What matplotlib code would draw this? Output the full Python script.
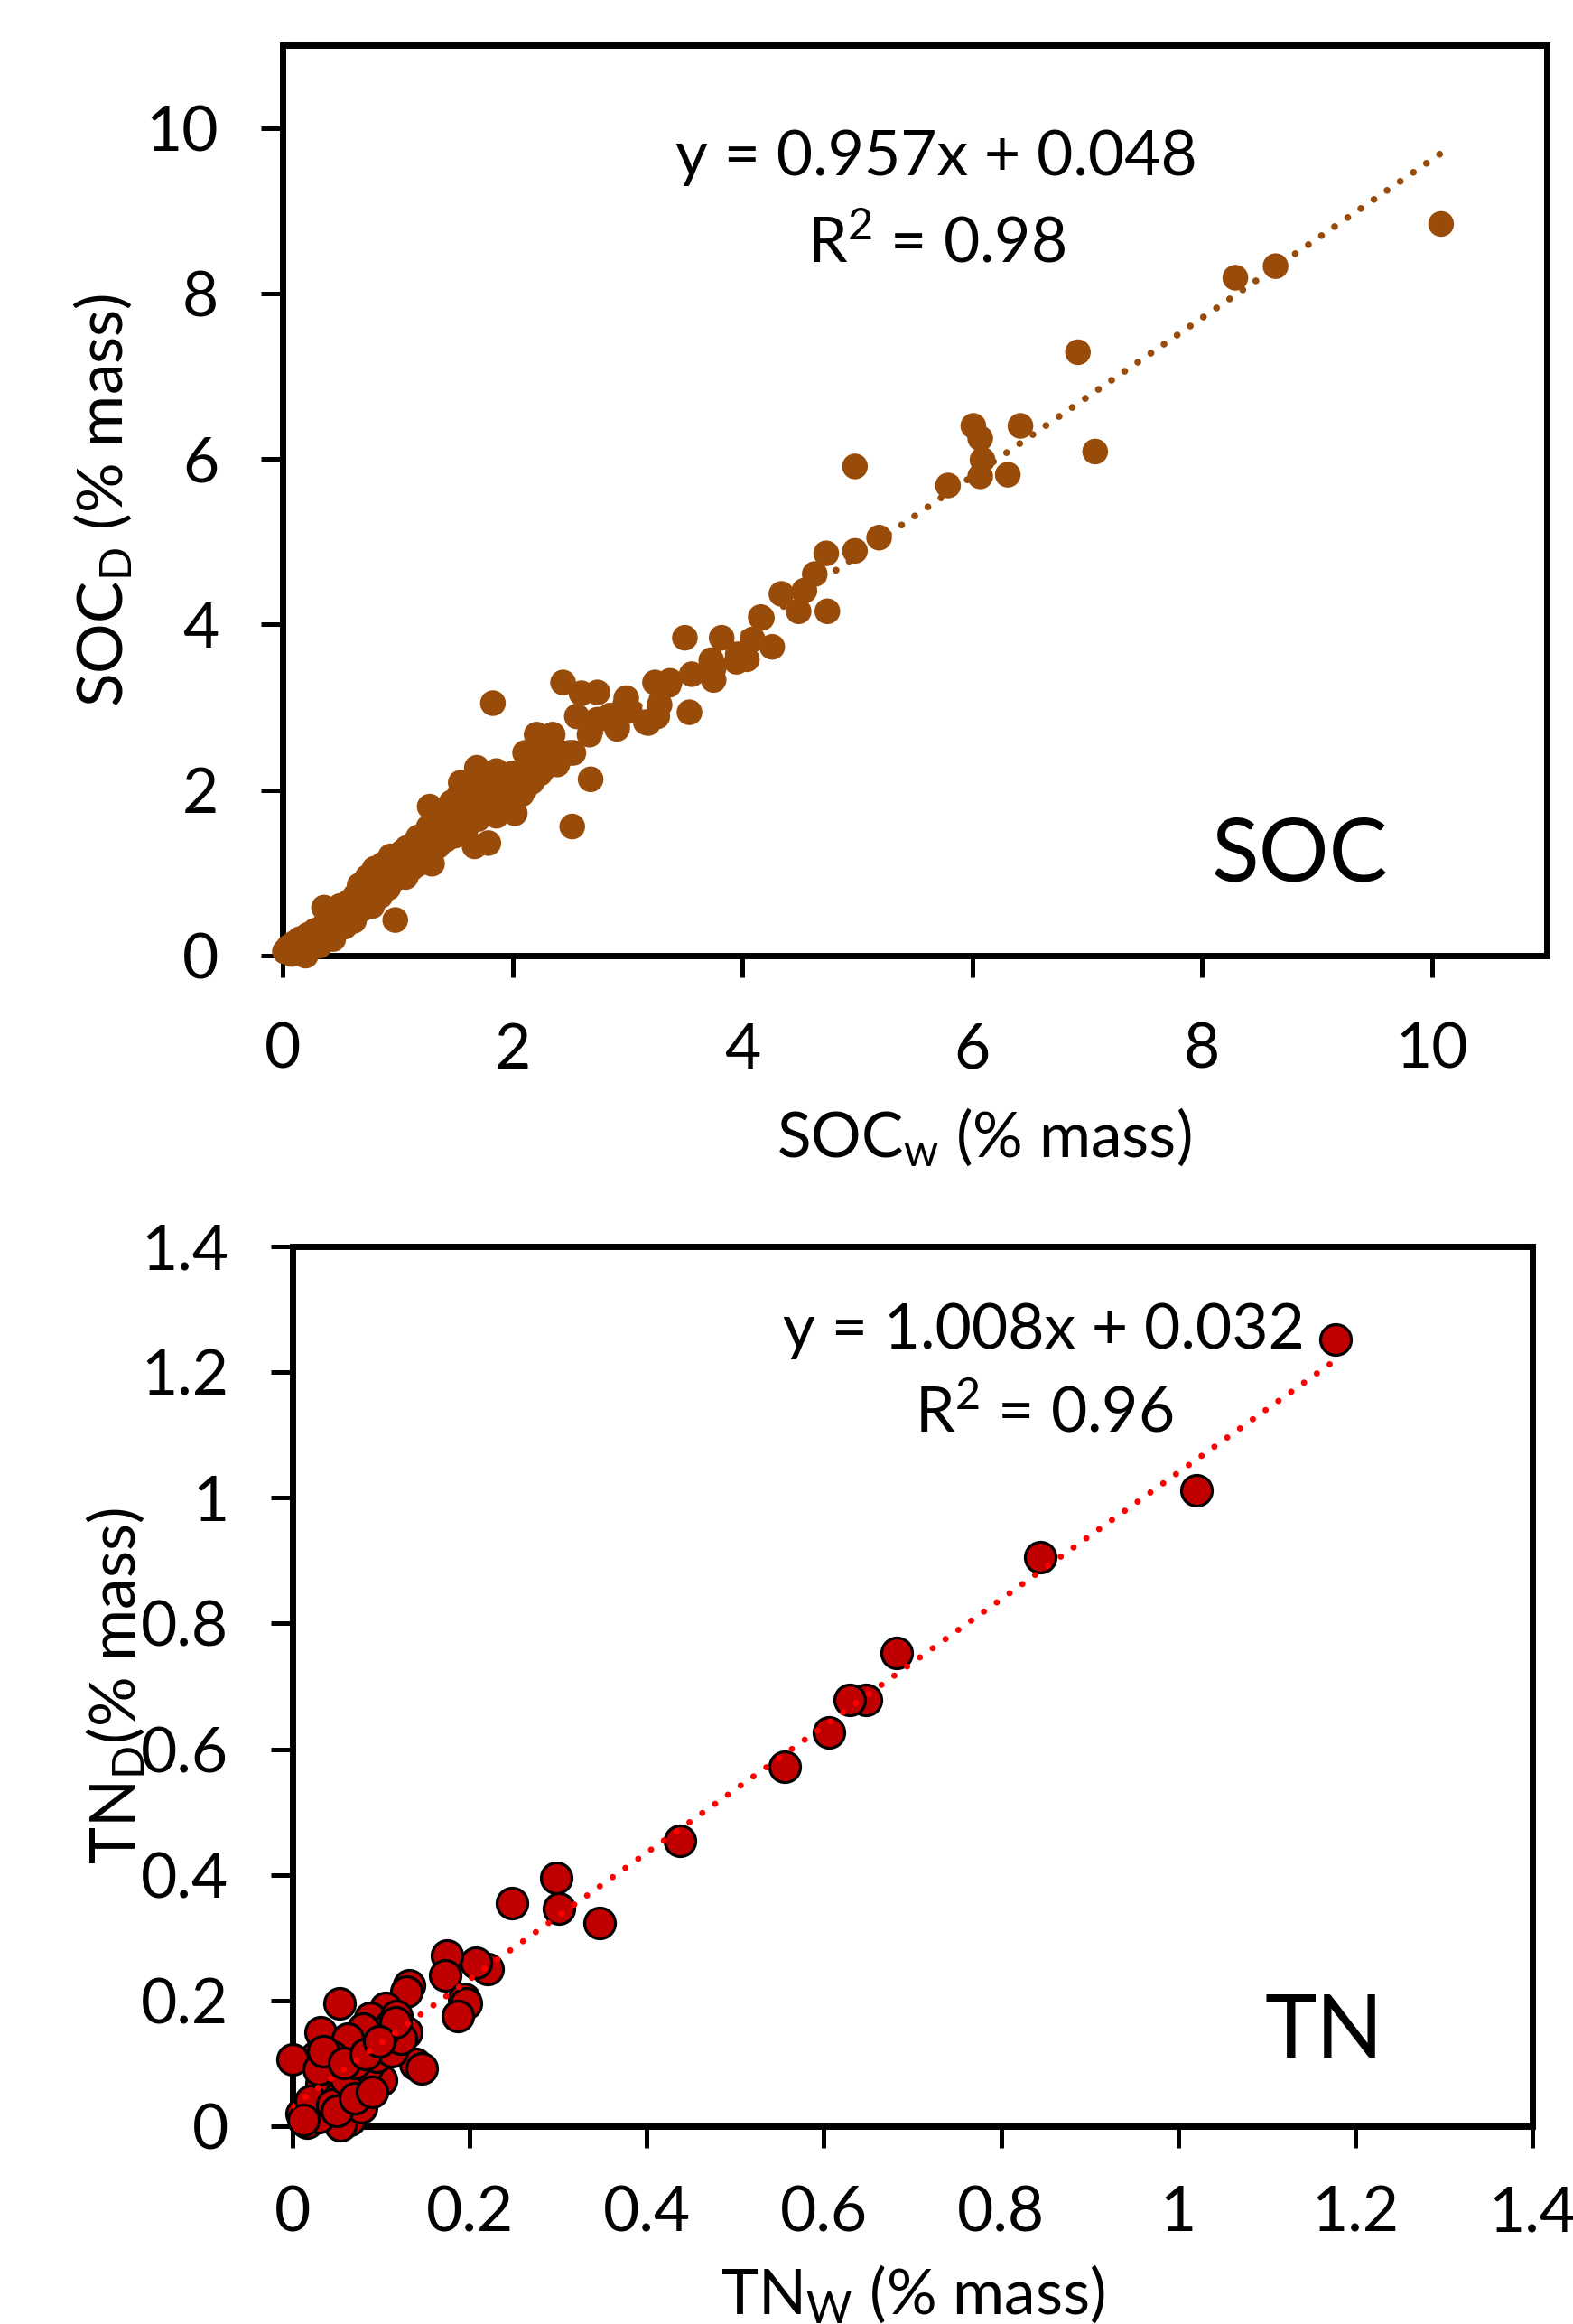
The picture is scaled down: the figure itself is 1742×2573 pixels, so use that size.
import matplotlib
matplotlib.use("Agg")
import matplotlib.pyplot as plt
from matplotlib.ticker import FuncFormatter

plt.rcParams['font.family'] = ['Lato', 'DejaVu Sans']
plt.rcParams['mathtext.fontset'] = 'custom'
plt.rcParams['mathtext.rm'] = 'Lato'
plt.rcParams['mathtext.it'] = 'Lato'

# ---------------- SOC data (% mass) ----------------
soc_w = [0.02, 0.05, 0.08, 0.10, 0.12, 0.15, 0.18, 0.20, 0.22, 0.25, 0.28, 0.30, 0.32, 0.35,
         0.36, 0.38, 0.40, 0.42, 0.44, 0.46, 0.48, 0.50, 0.52, 0.54, 0.55, 0.58, 0.60, 0.62,
         0.63, 0.65, 0.67, 0.68, 0.70, 0.72, 0.74, 0.75, 0.77, 0.78, 0.80, 0.82, 0.84, 0.85,
         0.87, 0.88, 0.90, 0.92, 0.94, 0.95, 0.97, 0.98, 1.00, 1.02, 1.04, 1.05, 1.07, 1.08,
         1.10, 1.12, 1.14, 1.15, 1.17, 1.18, 1.20, 1.22, 1.24, 1.25, 1.27, 1.28, 1.30, 1.32,
         1.34, 1.35, 1.37, 1.38, 1.40, 1.42, 1.44, 1.45, 1.47, 1.48, 1.50, 1.52, 1.54, 1.55,
         1.57, 1.58, 1.60, 1.62, 1.64, 1.65, 1.67, 1.68, 1.69, 1.70, 1.72, 1.74, 1.76, 1.79,
         1.80, 1.82, 1.83, 1.84, 1.86, 1.86, 1.88, 1.90, 1.92, 1.95, 1.98, 2.00, 2.02, 2.04,
         2.06, 2.08, 2.11, 2.11, 2.14, 2.17, 2.20, 2.21, 2.24, 2.28, 2.30, 2.35, 2.39, 2.42,
         2.44, 2.50, 2.52, 2.53, 2.56, 2.60, 2.67, 2.68, 2.74, 2.74, 2.85, 2.91, 2.91, 2.98,
         2.99, 3.02, 3.16, 3.18, 3.24, 3.26, 3.28, 3.36, 3.37, 3.50, 3.54, 3.56, 3.73, 3.75,
         3.75, 3.82, 3.95, 3.96, 4.04, 4.09, 4.16, 4.17, 4.26, 4.34, 4.49, 4.54, 4.63, 4.74,
         4.73, 4.98, 4.98, 5.19, 5.79, 6.01, 6.07, 6.09, 6.07, 6.31, 6.42, 6.92, 7.07, 8.29,
         8.64, 10.08]
soc_d = [0.05, 0.10, 0.02, 0.15, 0.08, 0.20, 0.12, 0.00, 0.25, 0.18, 0.30, 0.22, 0.12, 0.35,
         0.58, 0.28, 0.45, 0.33, 0.20, 0.52, 0.40, 0.60, 0.47, 0.35, 0.55, 0.65, 0.50, 0.42,
         0.72, 0.60, 0.85, 0.55, 0.78, 0.66, 0.95, 0.70, 0.88, 0.60, 1.05, 0.80, 0.95, 0.72,
         1.10, 0.90, 1.00, 0.82, 1.20, 1.05, 0.92, 0.43, 1.15, 0.98, 1.25, 1.08, 0.95, 1.30,
         1.15, 1.05, 1.35, 1.20, 1.10, 1.43, 1.28, 1.15, 1.40, 1.25, 1.55, 1.80, 1.11, 1.45,
         1.58, 1.32, 1.62, 1.48, 1.70, 1.40, 1.72, 1.55, 1.85, 1.60, 1.45, 1.75, 1.95, 2.09,
         1.68, 1.82, 1.55, 1.90, 1.75, 2.05, 1.32, 1.85, 2.27, 1.65, 1.95, 1.78, 2.10, 1.36,
         1.88, 2.00, 3.05, 1.72, 2.23, 1.69, 1.95, 2.12, 1.85, 2.05, 1.90, 2.20, 1.72, 2.00,
         2.15, 1.95, 2.02, 2.45, 2.25, 2.10, 2.35, 2.67, 2.20, 2.27, 2.50, 2.67, 2.31, 2.45,
         3.30, 2.45, 1.56, 2.45, 2.89, 3.17, 2.67, 2.13, 3.18, 2.85, 2.90, 2.74, 2.78, 3.03,
         3.11, 2.96, 2.82, 2.81, 3.30, 2.89, 3.03, 3.27, 3.32, 3.84, 2.94, 3.40, 3.57, 3.33,
         3.47, 3.84, 3.55, 3.64, 3.58, 3.82, 4.09, 4.08, 3.73, 4.37, 4.16, 4.41, 4.61, 4.16,
         4.86, 4.89, 5.91, 5.05, 5.68, 6.40, 6.25, 5.99, 5.79, 5.81, 6.40, 7.29, 6.09, 8.19,
         8.33, 8.84]
soc_fit = [0.957, 0.048]
soc_r2 = 0.98

# ---------------- TN data (% mass) ----------------
tn_w = [1.178, 1.021, 0.844, 0.682, 0.647, 0.629, 0.606, 0.556, 0.437, 0.347, 0.298, 0.301,
        0.248, 0.220, 0.207, 0.174, 0.172, 0.194, 0.196, 0.187, 0.132, 0.128, 0.139, 0.146,
        0.053, 0.105, 0.088, 0.117, 0.128, 0.032, 0.057, 0.093, 0.027, 0.000, 0.089, 0.100,
        0.081, 0.047, 0.033, 0.050, 0.037, 0.064, 0.077, 0.067, 0.054, 0.023, 0.010, 0.016,
        0.040, 0.064, 0.054, 0.030, 0.074, 0.040, 0.077, 0.110,
        0.020, 0.045, 0.060, 0.085, 0.070, 0.095, 0.112, 0.122, 0.102, 0.080, 0.062, 0.045,
        0.030, 0.050, 0.070, 0.090, 0.116, 0.012, 0.035, 0.058, 0.083, 0.098]
tn_d = [1.252, 1.012, 0.906, 0.753, 0.678, 0.678, 0.626, 0.572, 0.454, 0.323, 0.395, 0.347,
        0.355, 0.250, 0.260, 0.272, 0.240, 0.202, 0.195, 0.176, 0.224, 0.214, 0.099, 0.092,
        0.195, 0.188, 0.173, 0.176, 0.149, 0.149, 0.125, 0.133, 0.111, 0.106, 0.080, 0.073,
        0.063, 0.082, 0.068, 0.063, 0.049, 0.054, 0.044, 0.063, 0.049, 0.030, 0.020, 0.006,
        0.020, 0.010, 0.002, 0.015, 0.073, 0.092, 0.030, 0.160,
        0.040, 0.035, 0.075, 0.095, 0.100, 0.110, 0.120, 0.140, 0.150, 0.155, 0.140, 0.110,
        0.090, 0.025, 0.045, 0.055, 0.165, 0.010, 0.120, 0.100, 0.115, 0.135]
tn_fit = [1.008, 0.032]
tn_r2 = 0.96

soc_ticks = [0, 2, 4, 6, 8, 10]
tn_ticks = [0, 0.2, 0.4, 0.6, 0.8, 1.0, 1.2, 1.4]

brown = '#994C0A'
red_fill = '#C00000'

fig = plt.figure(figsize=(17.42, 25.73), dpi=100)
ax1 = fig.add_axes([313 / 1742, 1 - 1058 / 2573, 1400 / 1742, 1008 / 2573])
ax2 = fig.add_axes([324 / 1742, 1 - 2354 / 2573, 1373 / 1742, 974 / 2573])

FS = 50
fmt = FuncFormatter(lambda v, p: f"{v:g}")

for ax in (ax1, ax2):
    for s in ax.spines.values():
        s.set_linewidth(5)
    ax.tick_params(axis='both', which='major', direction='out', length=17, width=3.6,
                   labelsize=FS, top=False, right=False)
    ax.tick_params(axis='y', pad=34)
    ax.xaxis.set_major_formatter(fmt)
    ax.yaxis.set_major_formatter(fmt)
ax1.tick_params(axis='x', pad=36)
ax2.tick_params(axis='x', pad=30)

# ---- SOC panel ----
ax1.scatter(soc_w, soc_d, s=420, color=brown, edgecolors='none', zorder=3, clip_on=False)
xs = [min(soc_w), max(soc_w)]
ax1.plot(xs, [soc_fit[0] * v + soc_fit[1] for v in xs], color=brown, lw=5.5,
         ls=(0, (0.01, 2.3)), dash_capstyle='round', zorder=2)
ax1.set_xlim(0, 11)
ax1.set_ylim(0, 11)
ax1.set_xticks(soc_ticks)
ax1.set_yticks(soc_ticks)
ax1.text(5.69, 9.64, f"y = {soc_fit[0]:.3f}x + {soc_fit[1]:.3f}", fontsize=FS,
         ha='center', va='center')
ax1.text(5.69, 8.60, f"R$^{{2}}$ = {soc_r2:.2f}", fontsize=FS, ha='center', va='center')
ax1.text(8.85, 1.20, "SOC", fontsize=70, ha='center', va='center')
ax1.set_xlabel(r"SOC$_{\mathrm{w}}$ (% mass)", fontsize=FS)
ax1.set_ylabel(r"SOC$_{\mathrm{D}}$ (% mass)", fontsize=FS)
ax1.xaxis.set_label_coords(0.555, -0.165)
ax1.yaxis.set_label_coords(-0.118, 0.5)

# ---- TN panel ----
ax2.scatter(tn_w, tn_d, s=600, color=red_fill, edgecolors='black', linewidths=2.3,
            zorder=3, clip_on=False)
xs2 = [0.0, max(tn_w)]
ax2.plot(xs2, [tn_fit[0] * v + tn_fit[1] for v in xs2], color='#FF0000', lw=5.0,
         ls=(0, (0.01, 2.5)), dash_capstyle='round', zorder=4)
ax2.set_xlim(0, 1.4)
ax2.set_ylim(0, 1.4)
ax2.set_xticks(tn_ticks)
ax2.set_yticks(tn_ticks)
ax2.text(0.848, 1.266, f"y = {tn_fit[0]:.3f}x + {tn_fit[1]:.3f}", fontsize=FS,
         ha='center', va='center')
ax2.text(0.848, 1.134, f"R$^{{2}}$ = {tn_r2:.2f}", fontsize=FS, ha='center', va='center')
ax2.text(1.165, 0.148, "TN", fontsize=70, ha='center', va='center')
ax2.set_xlabel(r"TN$_{\mathrm{W}}$ (% mass)", fontsize=FS)
ax2.set_ylabel(r"TN$_{\mathrm{D}}$(% mass)", fontsize=FS)
ax2.xaxis.set_label_coords(0.5, -0.155)
ax2.yaxis.set_label_coords(-0.118, 0.5)

fig.savefig("out.png", dpi=100, facecolor='white')
